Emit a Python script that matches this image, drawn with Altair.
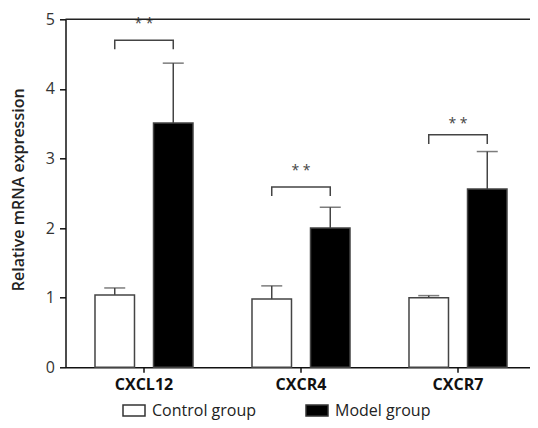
import altair as alt
import pandas as pd

genes = ["CXCL12", "CXCR4", "CXCR7"]
groups = ["Control group", "Model group"]
control_mean = [1.04, 0.98, 1.00]
control_err = [0.10, 0.19, 0.03]
model_mean = [3.51, 2.00, 2.56]
model_err = [0.86, 0.30, 0.54]
bracket_top = [4.70, 2.59, 3.34]
bracket_leg = 0.13
star_y = [4.93, 2.82, 3.50]
star_text = ["* *", "* *", "* *"]

rows = []
for i, g in enumerate(genes):
    rows.append({"gene": g, "group": groups[0], "mean": control_mean[i], "err": control_mean[i] + control_err[i]})
    rows.append({"gene": g, "group": groups[1], "mean": model_mean[i], "err": model_mean[i] + model_err[i]})
bars_df = pd.DataFrame(rows)

brows = []
for i, g in enumerate(genes):
    brows += [
        {"gene": g, "group": groups[0], "y": bracket_top[i] - bracket_leg, "o": 0},
        {"gene": g, "group": groups[0], "y": bracket_top[i], "o": 1},
        {"gene": g, "group": groups[1], "y": bracket_top[i], "o": 2},
        {"gene": g, "group": groups[1], "y": bracket_top[i] - bracket_leg, "o": 3},
    ]
br_df = pd.DataFrame(brows)
star_df = pd.DataFrame({"gene": genes, "y": star_y, "t": star_text})
top_df = pd.DataFrame({"y": [5]})

xs = alt.X("gene:N", sort=genes, scale=alt.Scale(paddingInner=0, paddingOuter=0),
           axis=alt.Axis(title=None, labelAngle=0, labelFontWeight="bold", labelFontSize=16,
                         labelColor="#111", tickSize=5, tickColor="#111", labelPadding=4,
                         domainColor="#111", domainWidth=1.5, tickWidth=1.5))
xo = alt.XOffset("group:N", sort=groups, scale=alt.Scale(paddingInner=0.325, paddingOuter=0.504))
ys = alt.Y("mean:Q", scale=alt.Scale(domain=[0, 5], nice=False),
           axis=alt.Axis(title="Relative mRNA expression", values=[0, 1, 2, 3, 4, 5], format="d",
                         grid=False, tickSize=6, labelPadding=5, labelFontSize=16, labelColor="#333",
                         domainColor="#111", domainWidth=1.5, tickColor="#111", tickWidth=1.5,
                         titleFontSize=16, titleFontWeight=600, titleColor="#222",
                         titleX=-47, titleY=170, titleAlign="center", titleBaseline="middle",
                         titleAngle=270))

base = alt.Chart(bars_df)

bars = base.mark_bar(strokeWidth=1.5, stroke="#444").encode(
    x=xs, xOffset=xo, y=ys,
    fill=alt.Fill("group:N", sort=groups,
                  scale=alt.Scale(domain=groups, range=["white", "black"]),
                  legend=alt.Legend(title=None, orient="none", direction="horizontal",
                                    legendX=56.5, legendY=379, symbolType="M-1,-0.5H1V0.5H-1Z",
                                    symbolSize=484, symbolStrokeColor="#333", symbolStrokeWidth=1.5,
                                    symbolOpacity=1, labelFontSize=16, labelColor="#222",
                                    labelOffset=6, columnPadding=46, padding=0)),
)

err_rule = base.mark_rule(color="#444", strokeWidth=1.5).encode(
    x=xs, xOffset=xo, y="mean:Q", y2="err:Q")
err_cap = base.mark_tick(color="#444", thickness=1.5, size=21).encode(
    x=xs, xOffset=xo, y="err:Q")

bracket = alt.Chart(br_df).mark_line(color="#444", strokeWidth=1.5).encode(
    x=xs, xOffset=xo, y="y:Q", detail="gene:N", order="o:Q")

stars = alt.Chart(star_df).mark_text(fontSize=14, color="#444", baseline="middle").encode(
    x=xs, y="y:Q", text="t:N")

top = alt.Chart(top_df).mark_rule(color="#222", strokeWidth=1.5).encode(y="y:Q")

chart = alt.layer(bars, err_rule, err_cap, bracket, stars, top).properties(
    width=471, height=348,
    autosize=alt.AutoSizeParams(type="none"),
    padding={"left": 57.5, "top": 11.3, "right": -6.5, "bottom": 52.7},
).configure(font="Open Sans").configure_view(stroke=None)

chart.save("out.html", embed_options={"renderer": "svg", "actions": False})
